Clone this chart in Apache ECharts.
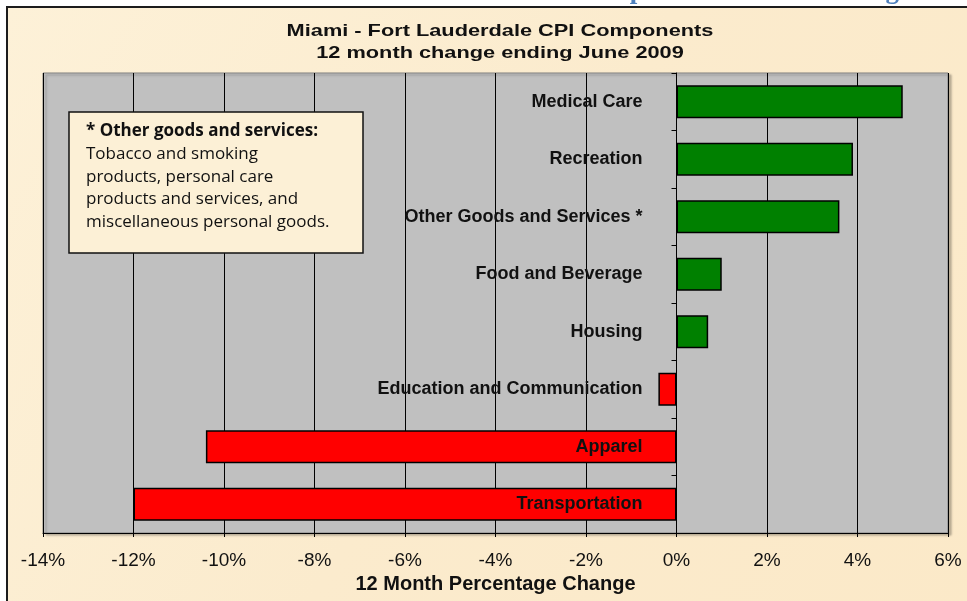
<!DOCTYPE html>
<html>
<head>
<meta charset="utf-8">
<script src="https://cdn.jsdelivr.net/npm/echarts@6/dist/echarts.min.js"></script>
<style>
  html, body { margin: 0; padding: 0; background: #fff; }
  #chart { width: 967px; height: 601px; }
</style>
</head>
<body>
<div id="chart"></div>
<script>
// categories top to bottom
const categories = [
  'Medical Care',
  'Recreation',
  'Other Goods and Services *',
  'Food and Beverage',
  'Housing',
  'Education and Communication',
  'Apparel',
  'Transportation'
];
// 12 month % change ending June 2009
const changes = [5.0, 3.9, 3.6, 1.0, 0.7, -0.4, -10.4, -12.0];

const axisMin = -14;
const axisMax = 6;
const axisStep = 2;

const titleLines = ['Miami - Fort Lauderdale CPI Components', '12 month change ending June 2009'];
const axisTitle = '12 Month Percentage Change';
const noteHead = '* Other goods and services:';
const noteLines = [
  'Tobacco and smoking',
  'products, personal care',
  'products and services, and',
  'miscellaneous personal goods.'
];
const slideTitle = 'Components of Price Change';

// plot box
const plotLeft = 43, plotRight = 19, plotTop = 73, plotBottom = 68;
const plotWidth = 967 - plotLeft - plotRight;
// the category axis sits on the 0% line
const zeroOffset = -plotWidth * (0 - axisMin) / (axisMax - axisMin);

const chart = echarts.init(document.getElementById('chart'));

const texts = [];
titleLines.forEach((line, i) => {
  texts.push({
    type: 'text', x: 500, y: 31 + i * 22, scaleX: 1.28, z: 30, silent: true,
    style: {
      text: line, x: 0, y: 0, align: 'center', verticalAlign: 'middle',
      font: 'bold 17px "Liberation Sans"', fill: '#111'
    }
  });
});
texts.push({
  type: 'text', z: 31, silent: true,
  style: { text: noteHead, x: 86, y: 131, verticalAlign: 'middle', font: 'bold 17px "Open Sans"', fill: '#111' }
});
noteLines.forEach((line, i) => {
  texts.push({
    type: 'text', z: 31, silent: true,
    style: { text: line, x: 86, y: 154 + i * 22.7, verticalAlign: 'middle', font: '17px "Open Sans"', fill: '#111' }
  });
});

const option = {
  animation: false,
  backgroundColor: '#ffffff',
  grid: {
    left: plotLeft, right: plotRight, top: plotTop, bottom: plotBottom,
    outerBoundsMode: 'none',
    containLabel: false,
    show: true,
    backgroundColor: '#c0c0c0',
    borderColor: '#7f7f7f',
    borderWidth: 1,
    shadowColor: 'rgba(0,0,0,0.25)',
    shadowBlur: 2,
    shadowOffsetX: 3,
    shadowOffsetY: 2
  },
  xAxis: {
    type: 'value',
    min: axisMin, max: axisMax, interval: axisStep,
    name: axisTitle,
    nameLocation: 'middle',
    nameGap: 38,
    nameTextStyle: { fontFamily: 'Liberation Sans', fontWeight: 'bold', fontSize: 20, color: '#111' },
    axisLine: { show: true, onZero: false, lineStyle: { color: '#000', width: 1 } },
    axisTick: { show: true, length: 4, lineStyle: { color: '#000' } },
    axisLabel: {
      margin: 18,
      fontFamily: 'Liberation Sans', fontSize: 19, color: '#111',
      formatter: v => v + '%'
    },
    splitLine: { show: true, lineStyle: { color: '#000', width: 1 } }
  },
  yAxis: {
    type: 'category',
    data: categories,
    inverse: true,
    position: 'left',
    offset: zeroOffset,
    z: 10,
    axisLine: { show: true, onZero: false, lineStyle: { color: '#000', width: 1 } },
    axisTick: { show: true, length: 5, lineStyle: { color: '#000' } },
    axisLabel: {
      margin: 34,
      fontFamily: 'Liberation Sans', fontWeight: 'bold', fontSize: 18, color: '#111'
    },
    splitLine: { show: false }
  },
  series: [{
    type: 'bar',
    data: changes,
    barWidth: 33,
    itemStyle: {
      color: p => (p.value >= 0 ? '#008000' : '#ff0000'),
      borderColor: '#000',
      borderWidth: 1.5
    }
  }],
  graphic: [
    // parchment panel
    {
      type: 'rect', z: -10, silent: true,
      shape: { x: 7, y: 7, width: 970, height: 600 },
      style: {
        fill: new echarts.graphic.LinearGradient(0, 0, 1, 1, [
          { offset: 0, color: '#fdf1d8' },
          { offset: 0.5, color: '#fbebcd' },
          { offset: 1, color: '#fbe9c8' }
        ]),
        stroke: '#1c1c1c', lineWidth: 2
      }
    },
    // slide heading, mostly cut off above the picture
    {
      type: 'text', z: -5, silent: true,
      style: {
        text: slideTitle, x: 911, y: 5,
        align: 'right', verticalAlign: 'bottom',
        font: 'bold 27px "Liberation Serif"', fill: '#4f81bd'
      }
    },
    // note box
    {
      type: 'rect', z: 20, silent: true,
      shape: { x: 69, y: 112, width: 294, height: 141 },
      style: { fill: '#fcf0d6', stroke: '#111', lineWidth: 1.5 }
    }
  ].concat(texts)
};

chart.setOption(option);
</script>
</body>
</html>
